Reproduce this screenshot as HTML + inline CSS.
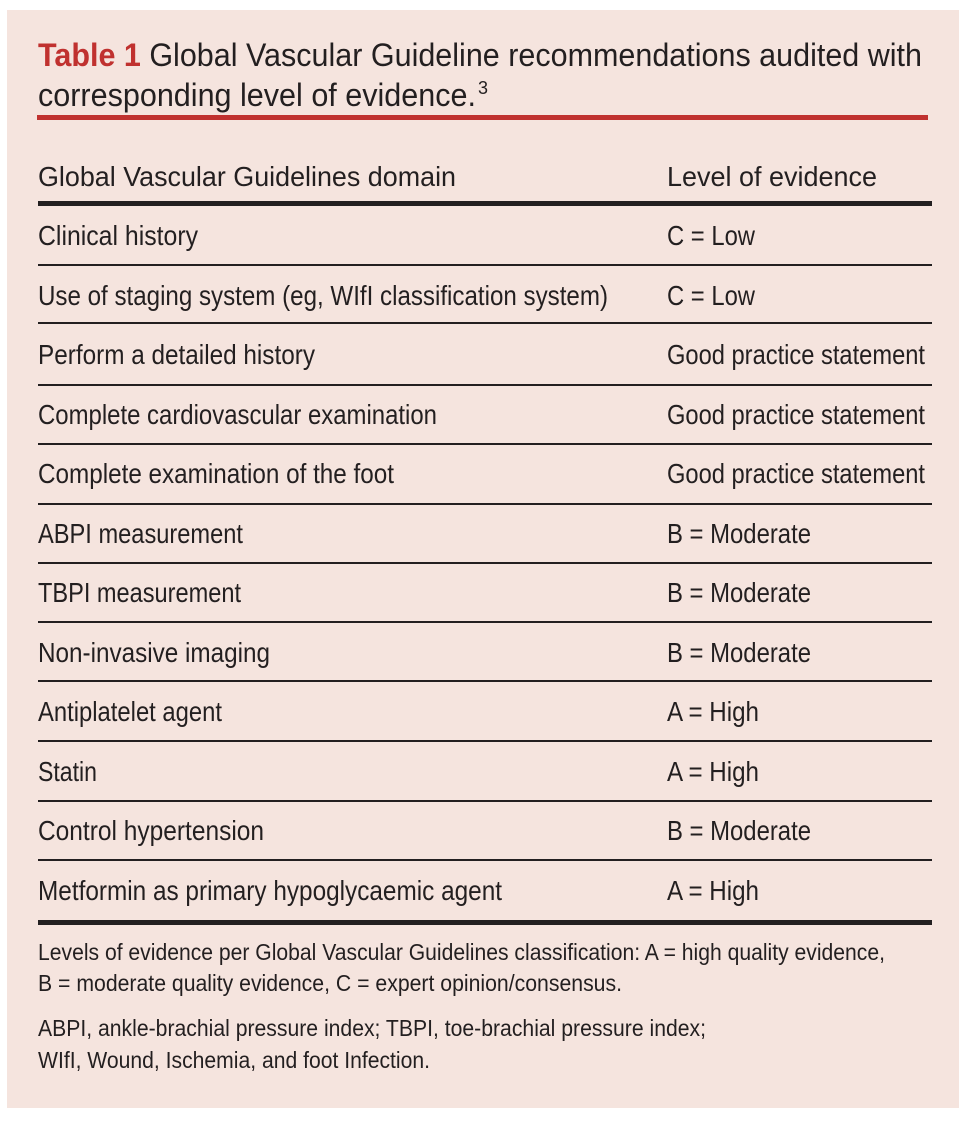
<!DOCTYPE html>
<html><head><meta charset="utf-8"><style>
html,body{margin:0;padding:0;background:#fff;}
svg{display:block;}
text{font-family:"Liberation Sans",sans-serif;fill:#231f20;}
</style></head><body>
<svg width="976" height="1124" viewBox="0 0 976 1124" xmlns="http://www.w3.org/2000/svg">
<rect x="7" y="10" width="952" height="1098" fill="#f5e4de"/>
<g font-size="32">
<text x="38" y="66" textLength="884" lengthAdjust="spacingAndGlyphs"><tspan fill="#c0312f" font-weight="bold">Table 1</tspan> Global Vascular Guideline recommendations audited with</text>
<text x="38" y="106" textLength="438" lengthAdjust="spacingAndGlyphs">corresponding level of evidence.</text>
<text x="478" y="94" font-size="18">3</text>
</g>
<rect x="37" y="115" width="891" height="5" fill="#c0312f"/>
<g font-size="28">
<text x="38" y="186" textLength="418" lengthAdjust="spacingAndGlyphs">Global Vascular Guidelines domain</text>
<text x="667" y="186" textLength="210" lengthAdjust="spacingAndGlyphs">Level of evidence</text>
</g>
<rect x="38" y="201" width="894" height="5" fill="#231f20"/>
<g fill="#231f20">
<rect x="38" y="264" width="894" height="2"/>
<rect x="38" y="322" width="894" height="2"/>
<rect x="38" y="384" width="894" height="2"/>
<rect x="38" y="443" width="894" height="2"/>
<rect x="38" y="503" width="894" height="2"/>
<rect x="38" y="562" width="894" height="2"/>
<rect x="38" y="621" width="894" height="2"/>
<rect x="38" y="680" width="894" height="2"/>
<rect x="38" y="740" width="894" height="2"/>
<rect x="38" y="800" width="894" height="2"/>
<rect x="38" y="859" width="894" height="2"/>
<rect x="38" y="920" width="894" height="5"/>
</g>
<g font-size="28">
<text x="38" y="245" textLength="160" lengthAdjust="spacingAndGlyphs">Clinical history</text>
<text x="38" y="305" textLength="570" lengthAdjust="spacingAndGlyphs">Use of staging system (eg, WIfI classification system)</text>
<text x="38" y="364" textLength="277" lengthAdjust="spacingAndGlyphs">Perform a detailed history</text>
<text x="38" y="424" textLength="399" lengthAdjust="spacingAndGlyphs">Complete cardiovascular examination</text>
<text x="38" y="483" textLength="356" lengthAdjust="spacingAndGlyphs">Complete examination of the foot</text>
<text x="38" y="543" textLength="205" lengthAdjust="spacingAndGlyphs">ABPI measurement</text>
<text x="38" y="602" textLength="203" lengthAdjust="spacingAndGlyphs">TBPI measurement</text>
<text x="38" y="662" textLength="232" lengthAdjust="spacingAndGlyphs">Non-invasive imaging</text>
<text x="38" y="721" textLength="184" lengthAdjust="spacingAndGlyphs">Antiplatelet agent</text>
<text x="38" y="781" textLength="59" lengthAdjust="spacingAndGlyphs">Statin</text>
<text x="38" y="840" textLength="226" lengthAdjust="spacingAndGlyphs">Control hypertension</text>
<text x="38" y="900" textLength="464" lengthAdjust="spacingAndGlyphs">Metformin as primary hypoglycaemic agent</text>

<text x="667" y="245" textLength="88" lengthAdjust="spacingAndGlyphs">C = Low</text>
<text x="667" y="305" textLength="88" lengthAdjust="spacingAndGlyphs">C = Low</text>
<text x="667" y="364" textLength="258" lengthAdjust="spacingAndGlyphs">Good practice statement</text>
<text x="667" y="424" textLength="258" lengthAdjust="spacingAndGlyphs">Good practice statement</text>
<text x="667" y="483" textLength="258" lengthAdjust="spacingAndGlyphs">Good practice statement</text>
<text x="667" y="543" textLength="144" lengthAdjust="spacingAndGlyphs">B = Moderate</text>
<text x="667" y="602" textLength="144" lengthAdjust="spacingAndGlyphs">B = Moderate</text>
<text x="667" y="662" textLength="144" lengthAdjust="spacingAndGlyphs">B = Moderate</text>
<text x="667" y="721" textLength="92" lengthAdjust="spacingAndGlyphs">A = High</text>
<text x="667" y="781" textLength="92" lengthAdjust="spacingAndGlyphs">A = High</text>
<text x="667" y="840" textLength="144" lengthAdjust="spacingAndGlyphs">B = Moderate</text>
<text x="667" y="900" textLength="92" lengthAdjust="spacingAndGlyphs">A = High</text>
</g>
<g font-size="23">
<text x="38" y="960" textLength="847" lengthAdjust="spacingAndGlyphs">Levels of evidence per Global Vascular Guidelines classification: A = high quality evidence,</text>
<text x="38" y="991" textLength="584" lengthAdjust="spacingAndGlyphs">B = moderate quality evidence, C = expert opinion/consensus.</text>
<text x="38" y="1036" textLength="668" lengthAdjust="spacingAndGlyphs">ABPI, ankle-brachial pressure index; TBPI, toe-brachial pressure index;</text>
<text x="38" y="1068" textLength="392" lengthAdjust="spacingAndGlyphs">WIfI, Wound, Ischemia, and foot Infection.</text>
</g>
</svg>
</body></html>
